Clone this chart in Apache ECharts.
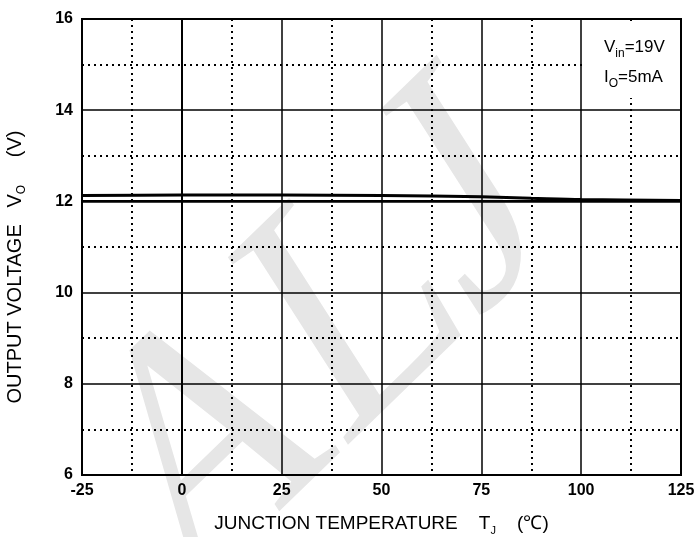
<!DOCTYPE html>
<html>
<head>
<meta charset="utf-8">
<script src="https://cdn.jsdelivr.net/npm/echarts@6/dist/echarts.min.js"></script>
<style>
  html, body { margin: 0; padding: 0; background: #fff; }
  #chart { width: 695px; height: 537px; }
</style>
</head>
<body>
<div id="chart"></div>
<script>
  // junction temperature (℃)
  const tempC = [-25, 0, 25, 50, 75, 87.5, 100, 125]
  // output voltage, upper and lower curve (V)
  const voUpper = [12.13, 12.14, 12.14, 12.13, 12.1, 12.07, 12.04, 12.02]
  const voLower = [12.01, 12.01, 12.01, 12.01, 12.01, 12.01, 12.01, 12.01]
  const xTicks = [-25, 0, 25, 50, 75, 100, 125]
  const yTicks = [6, 8, 10, 12, 14, 16]

  const toPairs = (xs, ys) => xs.map((x, i) => [x, ys[i]])

  let charts = echarts.init(document.getElementById('chart'))
  let labelFont = {
    color: '#000',
    fontFamily: 'Liberation Sans',
    fontWeight: 'bold',
    fontSize: 16
  }
  let option = {
    animation: false,
    grid: {
      left: 82,
      right: 14,
      top: 19,
      bottom: 62,
      outerBoundsMode: 'none',
      show: true,
      borderColor: '#000',
      borderWidth: 2
    },
    graphic: [
      {
        // watermark
        type: 'text',
        x: 324,
        y: 346,
        rotation: 0.77,
        skewX: -0.2,
        scaleX: 0.9,
        scaleY: 0.98,
        z: -5,
        silent: true,
        style: {
          text: 'ALJ',
          fontFamily: 'Liberation Serif',
          fontSize: 340,
          fill: '#e6e6e6',
          align: 'center',
          verticalAlign: 'middle'
        }
      },
      {
        type: 'rect',
        shape: { x: 584, y: 24, width: 96, height: 74 },
        style: { fill: '#fff' },
        z: 10
      },
      {
        type: 'text',
        x: 604,
        y: 32,
        z: 11,
        style: {
          text: '{m|V}{s|in}{m|=19V}\n{m|I}{s|O}{m|=5mA}',
          lineHeight: 30,
          rich: {
            m: { fontFamily: 'Liberation Sans', fontSize: 17, color: '#000', lineHeight: 30 },
            s: { fontFamily: 'Liberation Sans', fontSize: 12, color: '#000', padding: [13, 0, 0, 0], lineHeight: 30 }
          }
        }
      }
    ],
    xAxis: {
      type: 'value',
      min: xTicks[0],
      max: xTicks[xTicks.length - 1],
      interval: 25,
      name: '{t|JUNCTION TEMPERATURE    T}{s|J}{t|    (℃)}',
      nameLocation: 'middle',
      nameGap: 37,
      nameTextStyle: {
        rich: {
          t: { fontFamily: 'Liberation Sans', fontSize: 19, color: '#000' },
          s: { fontFamily: 'Liberation Sans', fontSize: 11, color: '#000', padding: [13, 0, 0, 0] }
        }
      },
      axisLine: { lineStyle: { color: '#000', width: 2 } },
      axisTick: { show: false },
      axisLabel: Object.assign({ margin: 8 }, labelFont),
      splitLine: { lineStyle: { color: '#000', width: 1.5 } },
      minorTick: { show: false, splitNumber: 2 },
      minorSplitLine: {
        show: true,
        lineStyle: { color: '#000', width: 2, type: [2, 4] }
      }
    },
    yAxis: {
      type: 'value',
      min: yTicks[0],
      max: yTicks[yTicks.length - 1],
      interval: 2,
      name: '{t|OUTPUT VOLTAGE   V}{s|O}{t|     (V)}',
      nameLocation: 'middle',
      nameGap: 54,
      nameTextStyle: {
        padding: [0, 40, 0, 0],
        rich: {
          t: { fontFamily: 'Liberation Sans', fontSize: 20, color: '#000' },
          s: { fontFamily: 'Liberation Sans', fontSize: 12, color: '#000', padding: [13, 0, 0, 0] }
        }
      },
      axisLine: { show: true, lineStyle: { color: '#000', width: 2 } },
      axisTick: { show: false },
      axisLabel: Object.assign({ margin: 9 }, labelFont),
      splitLine: { lineStyle: { color: '#000', width: 1.5 } },
      minorTick: { show: false, splitNumber: 2 },
      minorSplitLine: {
        show: true,
        lineStyle: { color: '#000', width: 2, type: [2, 4] }
      }
    },
    series: [
      {
        type: 'line',
        data: toPairs(tempC, voUpper),
        smooth: 0.3,
        showSymbol: false,
        lineStyle: { color: '#000', width: 3 },
        z: 5
      },
      {
        type: 'line',
        data: toPairs(tempC, voLower),
        smooth: true,
        showSymbol: false,
        lineStyle: { color: '#000', width: 2 },
        z: 5
      }
    ]
  }
  charts.setOption(option)
  window.addEventListener('resize', () => {
    charts.resize()
  })
</script>
</body>
</html>
